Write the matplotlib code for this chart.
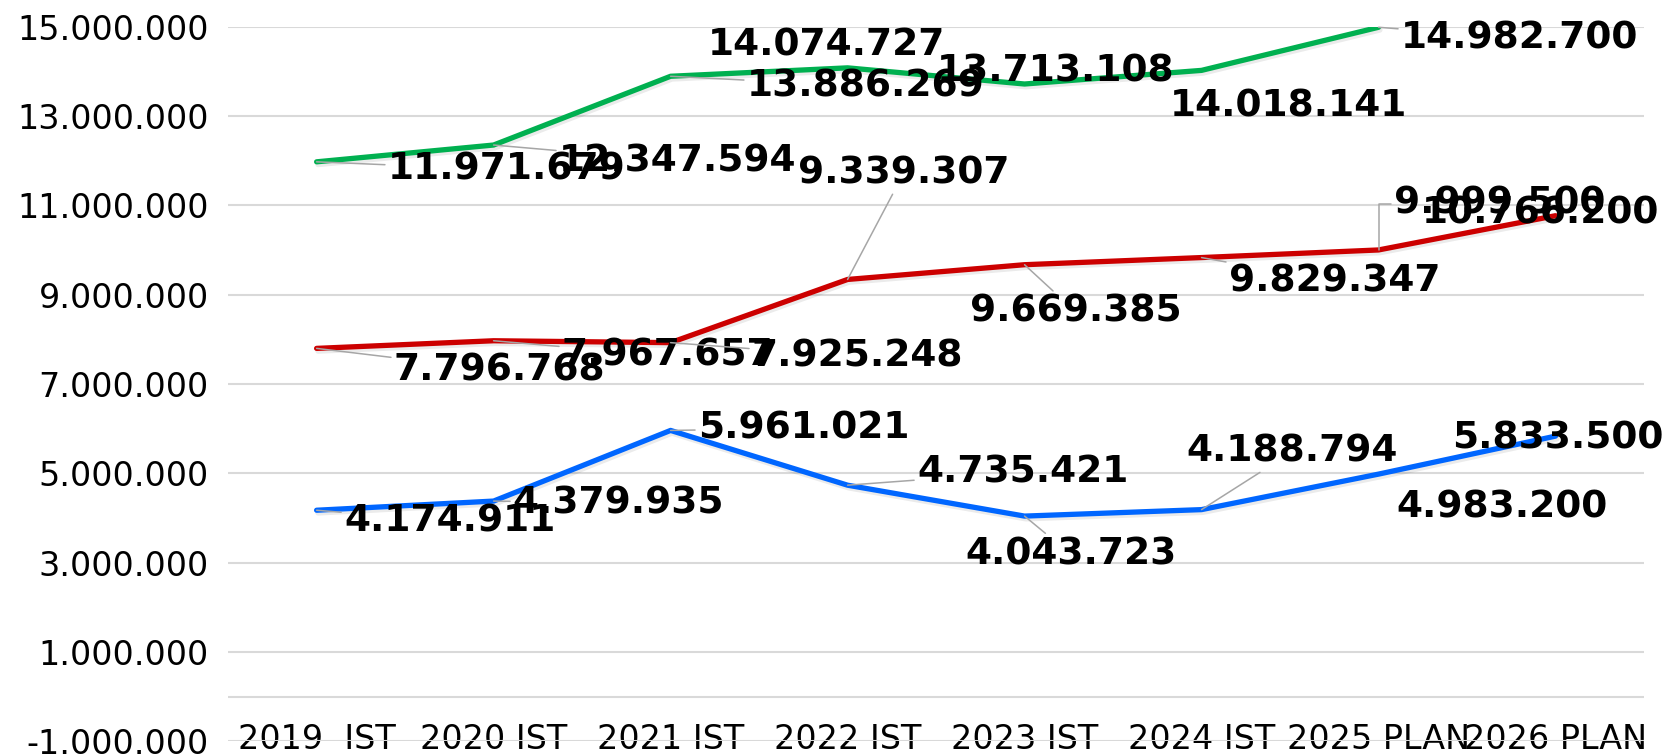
import numpy as np
import matplotlib
matplotlib.use("Agg")
from matplotlib import pyplot as plt
import matplotlib.patheffects as pe


categories = ["2019  IST", "2020 IST", "2021 IST", "2022 IST", "2023 IST",
              "2024 IST", "2025 PLAN", "2026 PLAN"]

green_vals = [11971679, 12347594, 13886269, 14074727, 13713108, 14018141, 14982700, np.nan]
red_vals = [7796768, 7967657, 7925248, 9339307, 9669385, 9829347, 9999500, 10766200]
blue_vals = [4174911, 4379935, 5961021, 4735421, 4043723, 4188794, 4983200, 5833500]

## label offsets (pixels) from each point, and leader style (0 = none, 1 = straight, 2 = elbow)
green_off = [(190, -8), (184, -16), (195, -10), (-21, 22), (31, 13), (87, -36), (141, -11), None]
green_lead = [1, 1, 1, 0, 0, 0, 1, 0]
red_off = [(183, -22), (174, -15), (187, -14), (56, 106), (51, -47), (133, -24), (121, 46), (-15, 2)]
red_lead = [1, 1, 1, 1, 1, 1, 2, 0]
blue_off = [(133, -11), (125, -2), (133, 2), (175, 13), (46, -38), (91, 58), (123, -33), (2, -2)]
blue_lead = [1, 1, 1, 1, 1, 1, 0, 0]


def fmt(v):
    return "{:,.0f}".format(v).replace(",", ".")


fig = plt.figure(figsize=(16.65, 7.55), dpi=100)
ax = fig.add_axes([0.137, 0.0179, 0.8504, 0.947])

x = np.arange(len(categories))
shadow = [pe.SimpleLineShadow(offset=(1, -2), shadow_color="k", alpha=0.08), pe.Normal()]

series = [(green_vals, "#00b050", green_off, green_lead),
          (red_vals, "#cc0000", red_off, red_lead),
          (blue_vals, "#0066ff", blue_off, blue_lead)]

for vals, col, offs, leads in series:
    ax.plot(x, vals, color=col, lw=3.8, solid_joinstyle="round", solid_capstyle="round",
            path_effects=shadow, zorder=3)

for vals, col, offs, leads in series:
    for i, v in enumerate(vals):
        if np.isnan(v) or offs[i] is None:
            continue
        arrow = None
        if leads[i] == 1:
            arrow = dict(arrowstyle="-", color="#a6a6a6", lw=1.1, shrinkA=0, shrinkB=0)
        elif leads[i] == 2:
            arrow = dict(arrowstyle="-", color="#a6a6a6", lw=1.1, shrinkA=0, shrinkB=0,
                         connectionstyle="angle,angleA=0,angleB=90,rad=0", relpos=(0, 0.5))
        ax.annotate(fmt(v), xy=(i, v), xytext=offs[i], textcoords="offset pixels",
                    ha="center", va="center", fontsize=27, fontweight="bold",
                    color="black", arrowprops=arrow, zorder=5, annotation_clip=False)

ax.set_xlim(-0.5, len(categories) - 0.5)
ax.set_ylim(-1000000, 15000000)
yt = np.arange(-1000000, 15000001, 2000000)
ax.set_yticks(yt)
ax.set_yticklabels([fmt(t) for t in yt])
ax.set_xticks(x)
ax.set_xticklabels(categories)
ax.grid(axis="y", color="#d9d9d9", lw=1.5, zorder=0)
ax.axhline(0, color="#d9d9d9", lw=1.5, zorder=1)
for s in ax.spines.values():
    s.set_visible(False)
ax.tick_params(axis="y", length=0, pad=14, labelsize=24, labelcolor="black")
ax.tick_params(axis="x", length=0, pad=-13, labelsize=24, labelcolor="black")

fig.savefig("out.png", dpi=100)
